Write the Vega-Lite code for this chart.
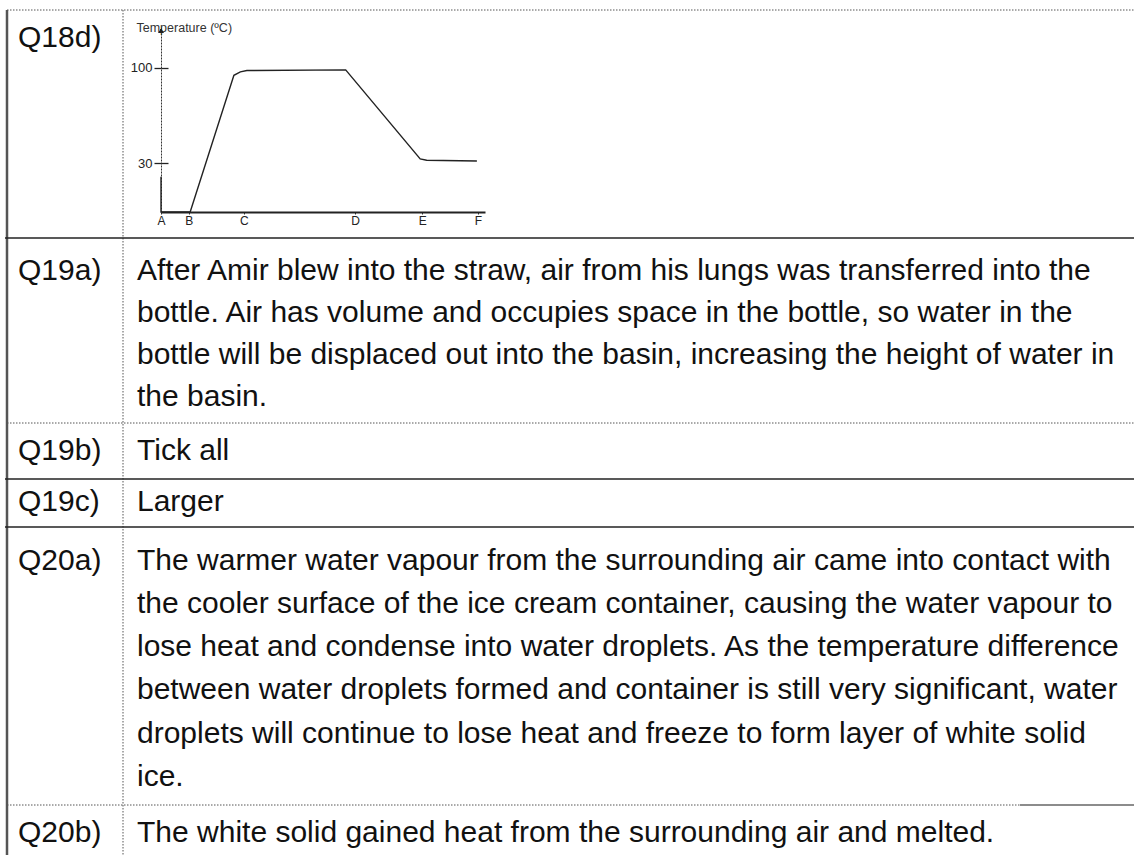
{
  "$schema": "https://vega.github.io/schema/vega-lite/v6.json",
  "width": 1134,
  "height": 855,
  "padding": 0,
  "autosize": {"type": "none"},
  "background": "white",
  "config": {"view": {"stroke": null}, "font": "Liberation Sans"},
  "datasets": {
    "solidBorders": [
      {"x0": 7, "x1": 7, "y0": 10, "y1": 855}
    ],
    "solidRules": [
      {"x0": 5, "x1": 1134, "y0": 238, "y1": 238},
      {"x0": 5, "x1": 1134, "y0": 479, "y1": 479},
      {"x0": 5, "x1": 1134, "y0": 527, "y1": 527}
    ],
    "grayRules": [
      {"x0": 1020, "x1": 1134, "y0": 805, "y1": 805}
    ],
    "dottedRules": [
      {"x0": 7, "x1": 1134, "y0": 10, "y1": 10},
      {"x0": 123, "x1": 123, "y0": 10, "y1": 855},
      {"x0": 7, "x1": 1134, "y0": 423, "y1": 423},
      {"x0": 7, "x1": 1020, "y0": 805, "y1": 805}
    ],
    "labels": [
      {"question": "Q18d)", "y": 38},
      {"question": "Q19a)", "y": 271},
      {"question": "Q19b)", "y": 451},
      {"question": "Q19c)", "y": 502},
      {"question": "Q20a)", "y": 561},
      {"question": "Q20b)", "y": 833}
    ],
    "answers": [
      {"question": "Q19a)", "line": 1, "y": 271, "text": "After Amir blew into the straw, air from his lungs was transferred into the"},
      {"question": "Q19a)", "line": 2, "y": 313, "text": "bottle. Air has volume and occupies space in the bottle, so water in the"},
      {"question": "Q19a)", "line": 3, "y": 355, "text": "bottle will be displaced out into the basin, increasing the height of water in"},
      {"question": "Q19a)", "line": 4, "y": 397, "text": "the basin."},
      {"question": "Q19b)", "line": 1, "y": 451, "text": "Tick all"},
      {"question": "Q19c)", "line": 1, "y": 502, "text": "Larger"},
      {"question": "Q20a)", "line": 1, "y": 561, "text": "The warmer water vapour from the surrounding air came into contact with"},
      {"question": "Q20a)", "line": 2, "y": 604, "text": "the cooler surface of the ice cream container, causing the water vapour to"},
      {"question": "Q20a)", "line": 3, "y": 647, "text": "lose heat and condense into water droplets. As the temperature difference"},
      {"question": "Q20a)", "line": 4, "y": 690, "text": "between water droplets formed and container is still very significant, water"},
      {"question": "Q20a)", "line": 5, "y": 734, "text": "droplets will continue to lose heat and freeze to form layer of white solid"},
      {"question": "Q20a)", "line": 6, "y": 777, "text": "ice."},
      {"question": "Q20b)", "line": 1, "y": 833, "text": "The white solid gained heat from the surrounding air and melted."}
    ],
    "curve": [
      {"time": 0, "temperature": 20},
      {"time": 0, "temperature": -6},
      {"time": 9, "temperature": -6},
      {"time": 22.5, "temperature": 94.5},
      {"time": 24.5, "temperature": 97},
      {"time": 26.5, "temperature": 98},
      {"time": 57, "temperature": 98.5},
      {"time": 80, "temperature": 33},
      {"time": 82, "temperature": 32},
      {"time": 97.5, "temperature": 31.5}
    ]
  },
  "layer": [
    {
      "layer": [
        {
          "data": {"name": "dottedRules"},
          "mark": {"type": "rule", "color": "#555", "strokeWidth": 1, "strokeDash": [1.5, 1.5]},
          "encoding": {
            "x": {"field": "x0", "type": "quantitative", "scale": {"domain": [0, 1134], "nice": false, "zero": false}, "axis": null},
            "x2": {"field": "x1"},
            "y": {"field": "y0", "type": "quantitative", "scale": {"domain": [0, 855], "reverse": true, "nice": false, "zero": false}, "axis": null},
            "y2": {"field": "y1"}
          }
        },
        {
          "data": {"name": "solidBorders"},
          "mark": {"type": "rule", "color": "#555", "strokeWidth": 2.5},
          "encoding": {
            "x": {"field": "x0", "type": "quantitative"},
            "x2": {"field": "x1"},
            "y": {"field": "y0", "type": "quantitative"},
            "y2": {"field": "y1"}
          }
        },
        {
          "data": {"name": "solidRules"},
          "mark": {"type": "rule", "color": "#222", "strokeWidth": 1.6},
          "encoding": {
            "x": {"field": "x0", "type": "quantitative"},
            "x2": {"field": "x1"},
            "y": {"field": "y0", "type": "quantitative"},
            "y2": {"field": "y1"}
          }
        },
        {
          "data": {"name": "grayRules"},
          "mark": {"type": "rule", "color": "#666", "strokeWidth": 1.6},
          "encoding": {
            "x": {"field": "x0", "type": "quantitative"},
            "x2": {"field": "x1"},
            "y": {"field": "y0", "type": "quantitative"},
            "y2": {"field": "y1"}
          }
        },
        {
          "data": {"name": "labels"},
          "mark": {"type": "text", "align": "left", "baseline": "middle", "fontSize": 30, "color": "#111"},
          "encoding": {
            "x": {"datum": 18, "type": "quantitative"},
            "y": {"field": "y", "type": "quantitative"},
            "text": {"field": "question"}
          }
        },
        {
          "data": {"name": "answers"},
          "mark": {"type": "text", "align": "left", "baseline": "middle", "fontSize": 30, "color": "#111"},
          "encoding": {
            "x": {"datum": 137, "type": "quantitative"},
            "y": {"field": "y", "type": "quantitative"},
            "text": {"field": "text"}
          }
        }
      ]
    },
    {
      "data": {"name": "curve"},
      "layer": [
        {
          "mark": {"type": "line", "color": "#222", "strokeWidth": 1.4},
          "encoding": {
            "x": {
              "field": "time", "type": "quantitative",
              "scale": {"domain": [0, 100], "range": [161, 485], "nice": false, "zero": false},
              "axis": {
                "orient": "bottom", "offset": -643, "title": null, "grid": false,
                "values": [0, 8.6, 25.6, 59.9, 80.6, 97.8],
                "labelExpr": "datum.value < 1 ? 'A' : datum.value < 10 ? 'B' : datum.value < 30 ? 'C' : datum.value < 70 ? 'D' : datum.value < 90 ? 'E' : 'F'",
                "domainColor": "#222", "domainWidth": 1.8,
                "tickSize": 2, "tickColor": "#333",
                "labelFontSize": 12, "labelColor": "#222", "labelPadding": 1, "labelFlush": false, "labelOverlap": false
              }
            },
            "y": {
              "field": "temperature", "type": "quantitative",
              "scale": {"domain": [-6, 130], "range": [212, 27], "nice": false, "zero": false},
              "axis": {
                "orient": "left", "offset": -161, "grid": false,
                "values": [100, 30],
                "domainColor": "#333", "domainWidth": 1, "domainDash": [2, 1],
                "tickSize": 7, "tickColor": "#222", "tickWidth": 1.3,
                "labelFontSize": 13, "labelColor": "#222", "labelPadding": 2,
                "title": "Temperature (ºC)", "titleAngle": 0, "titleAlign": "left", "titleBaseline": "middle",
                "titleX": -25, "titleY": 27, "titleFontSize": 12.5, "titleFontWeight": "normal", "titleColor": "#333"
              }
            }
          }
        },
        {
          "mark": {"type": "point", "shape": "triangle-up", "filled": true, "size": 22, "color": "#222", "opacity": 1},
          "encoding": {
            "x": {"datum": 0, "type": "quantitative", "axis": null},
            "y": {
              "datum": 127, "type": "quantitative",
              "axis": {
                "orient": "right", "offset": -973, "values": [100, 30], "labels": false, "domain": false, "grid": false,
                "title": null, "tickSize": 7, "tickColor": "#222", "tickWidth": 1.3
              }
            }
          }
        }
      ],
      "resolve": {"axis": {"x": "independent", "y": "independent"}}
    }
  ],
  "resolve": {"scale": {"x": "independent", "y": "independent"}, "axis": {"x": "independent", "y": "independent"}}
}
